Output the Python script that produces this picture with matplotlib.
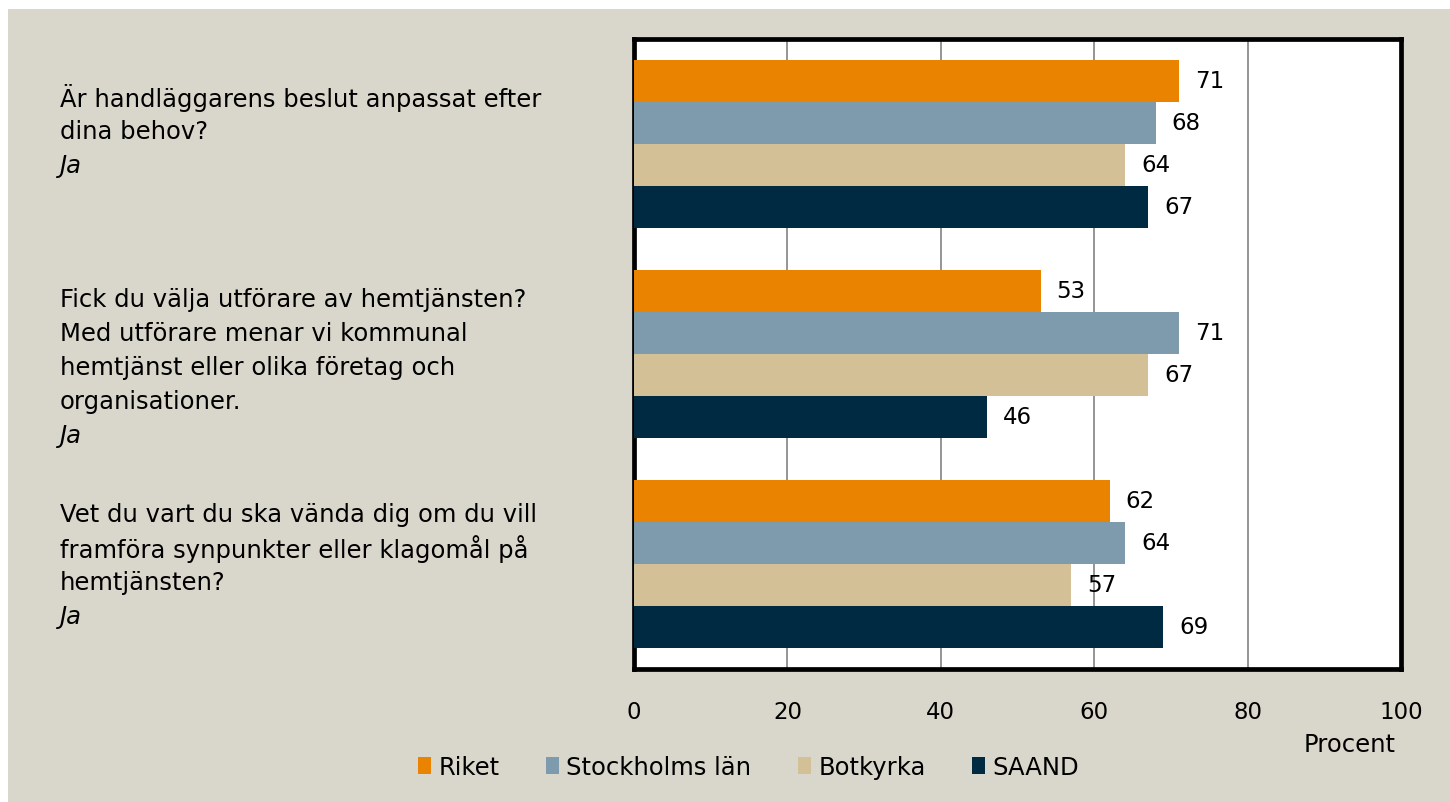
import numpy as np
import matplotlib.pyplot as plt
from matplotlib.patches import Rectangle
import matplotlib.transforms as mtransforms

plt.rcParams['font.family'] = ['DejaVu Sans']

# Data
series = ['Riket', 'Stockholms län', 'Botkyrka', 'SAAND']
colors = ['#E98300', '#7E9BAD', '#D3C096', '#002A42']
values = [
    [71, 53, 62],   # Riket
    [68, 71, 64],   # Stockholms län
    [64, 67, 57],   # Botkyrka
    [67, 46, 69],   # SAAND
]
questions = [
    ['Är handläggarens beslut anpassat efter', 'dina behov?'],
    ['Fick du välja utförare av hemtjänsten?', 'Med utförare menar vi kommunal',
     'hemtjänst eller olika företag och', 'organisationer.'],
    ['Vet du vart du ska vända dig om du vill', 'framföra synpunkter eller klagomål på',
     'hemtjänsten?'],
]
answer = 'Ja'
xticks = [0, 20, 40, 60, 80, 100]

bg = '#D9D7CB'
fig = plt.figure(figsize=(14.5, 8.03), dpi=100, facecolor='white')
fig.patches.append(Rectangle((8 / 1450, 0), 1, 1 - 10 / 803, transform=fig.transFigure,
                             facecolor=bg, edgecolor='none', zorder=-10))

ax = fig.add_axes([634 / 1450, 1 - 670 / 803, 767 / 1450, 630 / 803])
ax.set_facecolor('white')

n_q = len(questions)
group = 5  # 4 bars + 1 gap
for j, (name, col) in enumerate(zip(series, colors)):
    ys = [group * i + 1 + j for i in range(n_q)]
    ax.barh(ys, values[j], height=1.0, color=col, label=name, zorder=3)
    for y, v in zip(ys, values[j]):
        ax.text(v + 2.1, y, str(v), va='center', ha='left', fontsize=16.5, zorder=4)

ax.set_xlim(0, 100)
ax.set_ylim(group * n_q, 0)
ax.set_xticks(xticks)
ax.set_xticklabels([str(t) for t in xticks], fontsize=16.5)
ax.set_yticks([])
ax.tick_params(axis='x', length=0, pad=22)
ax.grid(axis='x', color='#8C8C8C', linewidth=1.3, zorder=1)
for s in ax.spines.values():
    s.set_linewidth(3.4)
    s.set_color('black')

# Question labels on the left
trans = mtransforms.blended_transform_factory(fig.transFigure, ax.transData)
line_h = 0.81
first_line = [1.38, 6.19, 11.31]
for i, lines in enumerate(questions):
    y0 = first_line[i]
    for k, ln in enumerate(lines):
        ax.text(60 / 1450, y0 + k * line_h, ln, transform=trans, ha='left', va='center',
                fontsize=17.5, clip_on=False)
    ax.text(60 / 1450, y0 + len(lines) * line_h, answer, transform=trans, ha='left',
            va='center', fontsize=17.5, style='italic', clip_on=False)

fig.text(1396 / 1450, 1 - 745 / 803, 'Procent', ha='right', va='center', fontsize=17.5)

leg = fig.legend(loc='center left', bbox_to_anchor=(408 / 1450, 1 - 768 / 803), ncol=4,
                 frameon=False, fontsize=17.5, handlelength=0.55, handleheight=0.75,
                 handletextpad=0.3, columnspacing=1.9, borderaxespad=0)

fig.savefig('out.png', dpi=100, facecolor=fig.get_facecolor())
